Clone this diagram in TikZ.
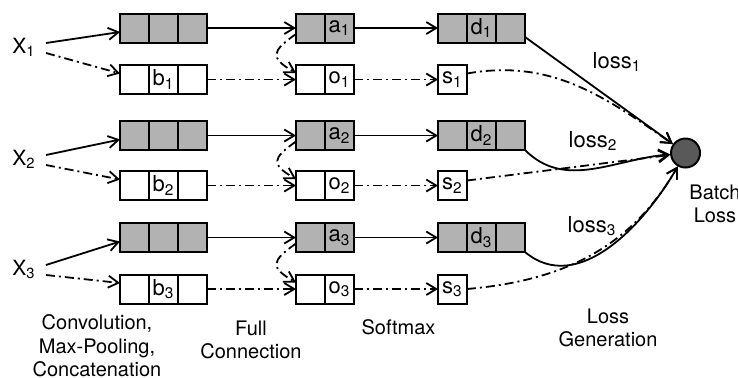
\documentclass[tikz,border=0pt]{standalone}
\usepackage{fontspec}
\setmainfont{TeX Gyre Heros}
\usetikzlibrary{arrows.meta, positioning}
\newcommand{\lbl}[2]{#1\textsubscript{#2}}

\begin{document}
\begin{tikzpicture}[
    x=0.5pt, y=-0.5pt,
    >={Straight Barb[length=5pt,width=6pt]},
    gcell/.style    ={draw, line width=1pt, fill=black!30, minimum width=14.5pt,
                      minimum height=14.5pt, inner sep=0pt, outer sep=0pt,
                      font=\fontsize{11}{12}\selectfont},
    wcell/.style    ={gcell, fill=white},
    inlabel/.style  ={inner sep=0pt, anchor=base, font=\fontsize{10.5}{12}\selectfont},
    steplabel/.style={align=center, font=\fontsize{10}{11.75}\selectfont},
    losslabel/.style={font=\fontsize{11}{12}\selectfont},
    flow/.style     ={->, line width=0.9pt},
    dflow/.style    ={->, line width=0.9pt, dash pattern=on 4.5pt off 2pt on 1pt off 2pt},
]
\useasboundingbox (0,0) rectangle (738,377);

% one row per input sentence: conv boxes, full connection, softmax
\foreach \i/\yg/\yw/\yx in {1/28/79.5/53, 2/135.5/185.5/165, 3/237.5/289/275} {
  \node[inlabel] (x\i) at (24,\yx) {\lbl{X}{\i}};
  \node[gcell] (gA\i) at (134.5,\yg) {};
  \node[gcell, right=0pt of gA\i] (gB\i) {};
  \node[gcell, right=0pt of gB\i] (gC\i) {};
  \node[wcell] (wA\i) at (134.5,\yw) {};
  \node[wcell, right=0pt of wA\i] (wB\i) {\lbl{b}{\i}};
  \node[wcell, right=0pt of wB\i] (wC\i) {};
  \node[gcell] (fA\i) at (310.5,\yg) {};
  \node[gcell, right=0pt of fA\i] (fB\i) {\lbl{a}{\i}};
  \node[wcell] (oA\i) at (310.5,\yw) {};
  \node[wcell, right=0pt of oA\i] (oB\i) {\lbl{o}{\i}};
  \node[gcell] (dA\i) at (452.5,\yg) {};
  \node[gcell, right=0pt of dA\i] (dB\i) {\lbl{d}{\i}};
  \node[gcell, right=0pt of dB\i] (dC\i) {};
  \node[wcell] (s\i) at (452.5,\yw) {\lbl{s}{\i}};
  \draw[flow]  ([xshift=5pt,yshift=5pt]x\i.base east) -- ([yshift=-2pt]gA\i.west);
  \draw[dflow] ([xshift=5pt]x\i.base east) -- ([yshift=3pt]wA\i.west);
  \draw[flow]  (gC\i) -- (fA\i);
  \draw[dflow] (wC\i) -- (oA\i);
  \draw[dflow] ([yshift=-3pt]fA\i.west) to[out=215,in=150,looseness=2] ([yshift=3.25pt]oA\i.west);
  \draw[flow]  (fB\i) -- (dA\i);
  \draw[dflow] (oB\i) -- (s\i);
}

\node[draw, circle, line width=1pt, fill=black!65, minimum size=14.5pt, inner sep=0pt] (batch) at (685.5,153) {};
\node[steplabel, anchor=west, inner sep=0pt] (batchtxt) at (689,204) {Batch\\Loss};

% loss generation
\draw[flow]  ([yshift=-4.5pt]dC1.east) -- (batch);
\draw[dflow] ([yshift=3pt]s1.east) to[out=10,in=145] (batch);
\draw[flow]  (dC2.south east) to[out=-45,in=185] (batch);
\draw[dflow] ([yshift=2.5pt]s2.east) -- (batch);
\draw[flow]  (dC3.south east) to[out=-40,in=240] (batch);
\draw[dflow] (s3.east) to[out=5,in=240] (batch);

\node[losslabel] (loss1) at (617,62)  {\lbl{loss}{1}};
\node[losslabel] (loss2) at (593,141) {\lbl{loss}{2}};
\node[losslabel] (loss3) at (592,226) {\lbl{loss}{3}};

% stage captions
\node[steplabel] (conv)  at (97,346)  {Convolution,\\Max-Pooling,\\Concatenation};
\node[steplabel] (full)  at (251,340) {Full\\Connection};
\node[steplabel] (soft)  at (398.5,327) {Softmax};
\node[steplabel] (lgen)  at (608,328) {Loss\\Generation};
\end{tikzpicture}
\end{document}
